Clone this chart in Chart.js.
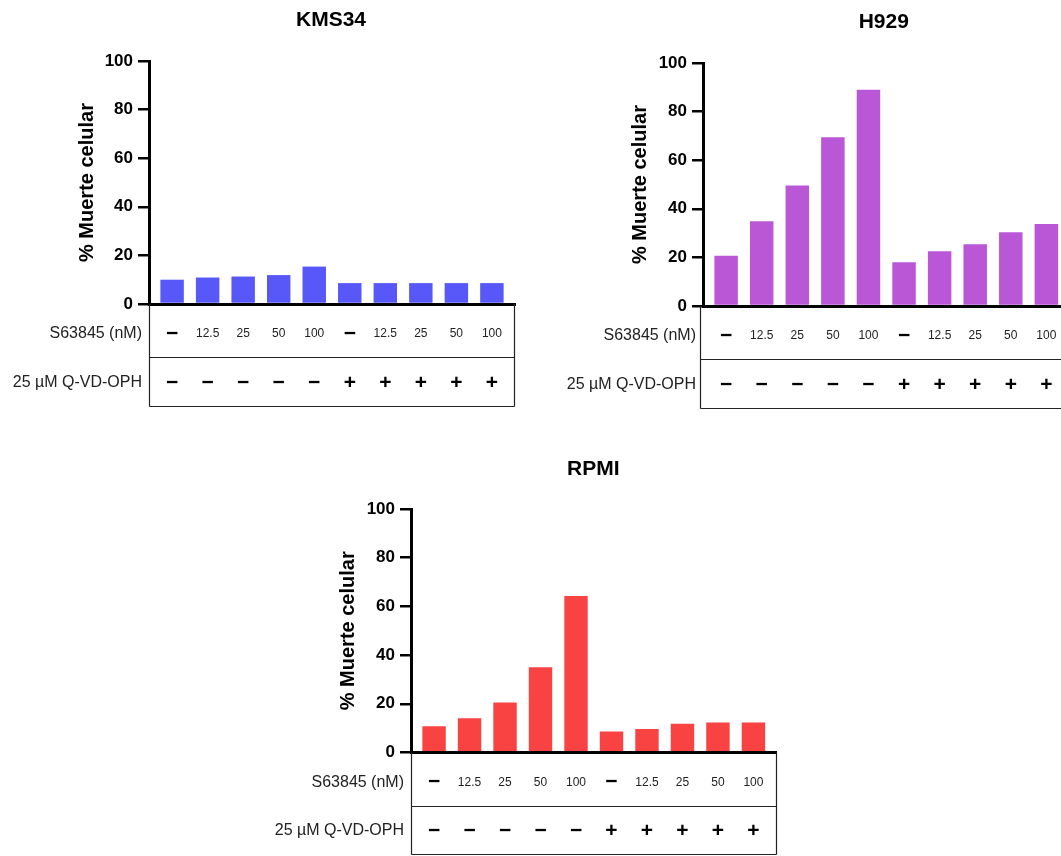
<!DOCTYPE html>
<html>
<head>
<meta charset="utf-8">
<script src="https://cdn.jsdelivr.net/npm/chart.js@4.4.1/dist/chart.umd.min.js"></script>
<style>
html,body{margin:0;padding:0;background:#fff;width:1061px;height:856px;overflow:hidden;position:relative}
canvas{position:absolute}
</style>
</head>
<body>
<canvas id="c1" width="530" height="420" style="left:0px;top:0px"></canvas>
<canvas id="c2" width="520" height="420" style="left:560px;top:0px"></canvas>
<canvas id="c3" width="530" height="416" style="left:260px;top:440px"></canvas>
<script>
// ---- data ----
const titles = ['KMS34', 'H929', 'RPMI'];
const yAxisTitle = '% Muerte celular';
const rowLabels = ['S63845 (nM)', '25 µM Q-VD-OPH'];
const doseLabels = ['−', '12.5', '25', '50', '100', '−', '12.5', '25', '50', '100'];
const qvdLabels = ['−', '−', '−', '−', '−', '+', '+', '+', '+', '+'];
const yMin = 0, yMax = 100, yStep = 20;
const kms34 = [10.0, 10.9, 11.3, 11.9, 15.4, 8.6, 8.6, 8.6, 8.6, 8.6];
const h929 = [20.7, 34.9, 49.6, 69.4, 89.0, 18.0, 22.5, 25.4, 30.4, 33.7];
const rpmi = [10.8, 14.1, 20.5, 35.0, 64.3, 8.6, 9.6, 11.8, 12.3, 12.3];

const FAMILY = '"Liberation Sans", Arial, Helvetica, sans-serif';

const panelPlugin = {
  id: 'panel',
  afterDraw(chart, args, o) {
    const ctx = chart.ctx, ca = chart.chartArea, x = chart.scales.x;
    const top = ca.bottom;
    ctx.save();
    // title
    ctx.fillStyle = '#000';
    ctx.textAlign = 'center';
    ctx.textBaseline = 'middle';
    ctx.font = 'bold 21px ' + FAMILY;
    ctx.fillText(o.title, (ca.left + ca.right) / 2 + o.titleDx, o.titleY);
    // table frame
    const L = Math.round(ca.left + o.tableDx) + 0.5;
    const R = Math.round(ca.right) - 0.5;
    const mid = Math.round(top + 53) + 0.5;
    const bot = Math.round(top + 102.5) - 0.5;
    ctx.strokeStyle = '#222';
    ctx.lineWidth = 1.2;
    ctx.beginPath();
    ctx.moveTo(L, top); ctx.lineTo(L, bot);
    ctx.moveTo(R, top); ctx.lineTo(R, bot);
    ctx.moveTo(L, mid); ctx.lineTo(R, mid);
    ctx.moveTo(L, bot); ctx.lineTo(R, bot);
    ctx.stroke();
    // row headers
    const y1 = top + 30, y2 = top + 78.5;
    ctx.fillStyle = '#222';
    ctx.textAlign = 'right';
    ctx.font = '16px ' + FAMILY;
    ctx.fillText(rowLabels[0], ca.left - 7, y1);
    ctx.fillText(rowLabels[1], ca.left - 7, y2);
    // cells
    ctx.textAlign = 'center';
    const drawCell = (t, px, py) => {
      if (t === '−' || t === '+') {
        ctx.fillStyle = '#000';
        ctx.font = 'bold 21px ' + FAMILY;
      } else {
        ctx.fillStyle = '#222';
        ctx.font = '12px ' + FAMILY;
      }
      ctx.fillText(t, px, py);
    };
    doseLabels.forEach((t, i) => drawCell(t, x.getPixelForValue(i), y1));
    qvdLabels.forEach((t, i) => drawCell(t, x.getPixelForValue(i), y2 + 0.5));
    ctx.restore();
  }
};

function makeChart(id, title, values, color, cfg) {
  return new Chart(document.getElementById(id), {
    type: 'bar',
    data: {
      datasets: [{
        data: values.map((v, i) => ({ x: i, y: v })),
        backgroundColor: color,
        borderWidth: 0,
        categoryPercentage: 1,
        barPercentage: 0.66
      }]
    },
    options: {
      responsive: false,
      animation: false,
      events: [],
      layout: { padding: { left: 0, right: cfg.pr, top: cfg.pt, bottom: cfg.pb } },
      plugins: {
        legend: { display: false },
        tooltip: { enabled: false },
        title: { display: false },
        panel: { title: title, titleY: cfg.titleY, titleDx: cfg.titleDx, tableDx: cfg.tableDx }
      },
      scales: {
        x: {
          type: 'linear',
          min: -0.65,
          max: 9.65,
          offset: false,
          afterFit: s => { s.height = 0; },
          ticks: { display: false },
          grid: { display: false, drawTicks: false, offset: false },
          border: { display: true, color: '#000', width: 3, z: 1 }
        },
        y: {
          min: yMin,
          max: yMax,
          afterFit: s => { s.width = cfg.yw; },
          ticks: {
            stepSize: yStep,
            color: '#000',
            padding: 5,
            font: { family: FAMILY, size: 17, weight: 'bold' }
          },
          grid: {
            drawOnChartArea: false,
            drawTicks: true,
            tickLength: 11,
            tickWidth: 2.5,
            tickColor: '#000',
            color: '#000',
            lineWidth: 2.5
          },
          border: { display: true, color: '#000', width: 3, z: 1 },
          title: {
            display: true,
            text: yAxisTitle,
            color: '#000',
            font: { family: FAMILY, size: 20, weight: 'bold' },
            padding: { top: cfg.ytp, bottom: 0 }
          }
        }
      }
    },
    plugins: [panelPlugin]
  });
}

makeChart('c1', titles[0], kms34, '#5858F8',
  { yw: 149, pr: 15, pt: 61, pb: 116, ytp: 75, titleY: 20.5, titleDx: -1, tableDx: 0 });
makeChart('c2', titles[1], h929, '#B957D7',
  { yw: 143, pr: 10.5, pt: 63, pb: 114, ytp: 68.5, titleY: 22, titleDx: -2.5, tableDx: -3.5 });
makeChart('c3', titles[2], rpmi, '#F94343',
  { yw: 151, pr: 13.5, pt: 69, pb: 103.5, ytp: 76.3, titleY: 29.5, titleDx: -0.5, tableDx: 0 });
</script>
</body>
</html>
